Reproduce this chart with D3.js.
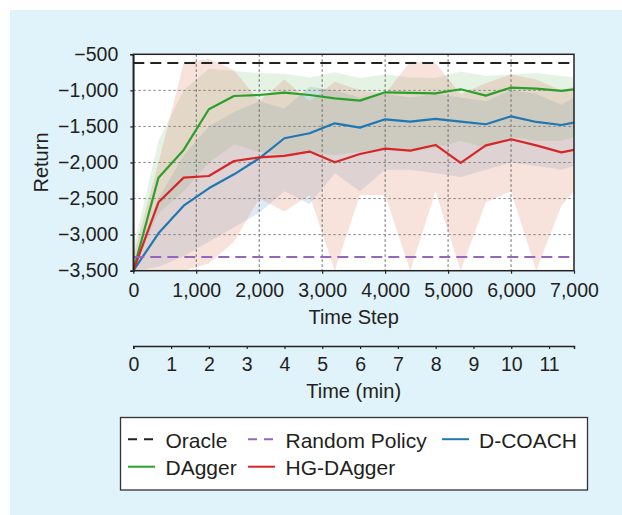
<!DOCTYPE html>
<html>
<head>
<meta charset="utf-8">
<title>Return vs Time Step</title>
<script src="https://cdn.jsdelivr.net/npm/d3@7"></script>
<style>
  body { margin: 0; background: #fff; }
  text { font-family: "Liberation Sans", Arial, Helvetica, sans-serif; fill: #231f20; }
</style>
</head>
<body>
<script>
// values
var steps = [0, 400, 800, 1200, 1600, 2000, 2400, 2800, 3200, 3600, 4000, 4400, 4800, 5200, 5600, 6000, 6400, 6800, 7000];

var dcoach   = [-3500, -2981, -2598, -2358, -2164, -1942, -1664, -1595, -1457, -1517, -1401, -1433, -1396, -1433, -1470, -1360, -1438, -1480, -1447];
var dcoachLo = [-3500, -3450, -3300, -3100, -2900, -2700, -2400, -2580, -2150, -2400, -2100, -2100, -2150, -2200, -2100, -2000, -2050, -2100, -2050];
var dcoachHi = [-3400, -2500, -1900, -1500, -1300, -1150, -1250, -950, -1000, -1100, -1050, -1100, -1050, -1100, -1150, -1000, -1050, -1200, -1100];

var dagger   = [-3500, -2210, -1826, -1262, -1078, -1064, -1031, -1064, -1110, -1142, -1027, -1036, -1041, -985, -1073, -962, -976, -1008, -985];
var daggerLo = [-3500, -2700, -2400, -2000, -1750, -1850, -1900, -1850, -1900, -1850, -1800, -1850, -1800, -1700, -1800, -1650, -1700, -1700, -1650];
var daggerHi = [-3200, -1700, -1000, -700, -730, -760, -770, -820, -750, -830, -780, -820, -830, -740, -800, -780, -760, -800, -820];

var hgdagger   = [-3500, -2552, -2210, -2187, -1979, -1928, -1909, -1849, -1997, -1882, -1808, -1835, -1757, -2006, -1762, -1678, -1762, -1859, -1826];
var hgdaggerLo = [-3500, -3500, -3500, -3400, -3100, -2500, -2680, -2450, -3500, -2450, -2450, -3500, -2400, -3500, -2550, -2400, -3500, -2600, -2400];
var hgdaggerHi = [-3300, -2000, -620, -560, -720, -1150, -850, -1150, -880, -1000, -1050, -600, -620, -1050, -900, -780, -850, -1000, -950];

var oracle = -620;
var randomPolicy = -3310;

var yTicks = [-500, -1000, -1500, -2000, -2500, -3000, -3500];
var xTicks = [0, 1000, 2000, 3000, 4000, 5000, 6000, 7000];
var minTicks = [0, 1, 2, 3, 4, 5, 6, 7, 8, 9, 10, 11];
var minMax = 11.66;   // minutes that correspond to 7,000 steps

var w = 622, h = 515;
var pL = 133.3, pR = 574, pT = 54.3, pB = 270.7;

var svg = d3.select("body").append("svg")
  .attr("width", w)
  .attr("height", h);

svg.append("rect").attr("width", w).attr("height", h).attr("fill", "#fff");
svg.append("rect").attr("x", 10).attr("y", 10).attr("width", w - 10).attr("height", h - 10).attr("fill", "#e0f2fa");

var x = d3.scaleLinear().domain([0, 7000]).range([pL, pR]);
var y = d3.scaleLinear().domain([-3500, -500]).range([pB, pT]);
var xMin = d3.scaleLinear().domain([0, minMax]).range([pL, pR]);

svg.append("clipPath").attr("id", "clip")
  .append("rect").attr("x", pL).attr("y", pT).attr("width", pR - pL).attr("height", pB - pT);

svg.append("rect")
  .attr("x", pL).attr("y", pT).attr("width", pR - pL).attr("height", pB - pT)
  .attr("fill", "#fff");

var plot = svg.append("g").attr("clip-path", "url(#clip)");

var series = [
  { name: "D-COACH",   mean: dcoach,   lo: dcoachLo,   hi: dcoachHi,   line: "#1f77b4", band: "#1f77b4", op: 0.15 },
  { name: "DAgger",    mean: dagger,   lo: daggerLo,   hi: daggerHi,   line: "#2ca02c", band: "#2ca02c", op: 0.12 },
  { name: "HG-DAgger", mean: hgdagger, lo: hgdaggerLo, hi: hgdaggerHi, line: "#d62728", band: "#e07a60", op: 0.22 }
];

var area = function(s) {
  return d3.area()
    .x(function(d, i) { return x(steps[i]); })
    .y0(function(d, i) { return y(s.lo[i]); })
    .y1(function(d, i) { return y(s.hi[i]); });
};

series.forEach(function(s) {
  plot.append("path")
    .datum(steps)
    .attr("d", area(s))
    .attr("fill", s.band)
    .attr("fill-opacity", s.op);
});

// grid
plot.selectAll(".gx").data(xTicks.slice(1, -1)).enter().append("line")
  .attr("x1", function(d) { return x(d); }).attr("x2", function(d) { return x(d); })
  .attr("y1", pT).attr("y2", pB)
  .attr("stroke", "#666").attr("stroke-width", 1).attr("stroke-dasharray", "2.5,2.5");
plot.selectAll(".gy").data(yTicks.slice(1, -1)).enter().append("line")
  .attr("x1", pL).attr("x2", pR)
  .attr("y1", function(d) { return y(d); }).attr("y2", function(d) { return y(d); })
  .attr("stroke", "#888").attr("stroke-width", 1).attr("stroke-dasharray", "2.5,2.5");

var line = function(vals) {
  return d3.line()
    .x(function(d, i) { return x(steps[i]); })
    .y(function(d, i) { return y(vals[i]); });
};

series.forEach(function(s) {
  plot.append("path")
    .datum(steps)
    .attr("d", line(s.mean))
    .attr("fill", "none")
    .attr("stroke", s.line)
    .attr("stroke-width", 2.2)
    .attr("stroke-linejoin", "round");
});

plot.append("line")
  .attr("x1", pL).attr("x2", pR).attr("y1", y(oracle)).attr("y2", y(oracle))
  .attr("stroke", "#222").attr("stroke-width", 2).attr("stroke-dasharray", "11,6");
plot.append("line")
  .attr("x1", pL).attr("x2", pR).attr("y1", y(randomPolicy)).attr("y2", y(randomPolicy))
  .attr("stroke", "#9467bd").attr("stroke-width", 2).attr("stroke-dasharray", "11,6");

// frame
svg.append("rect")
  .attr("x", pL).attr("y", pT).attr("width", pR - pL).attr("height", pB - pT)
  .attr("fill", "none").attr("stroke", "#222").attr("stroke-width", 1.5);

// axes
var yAxis = svg.append("g")
  .attr("transform", "translate(" + pL + ",0)")
  .call(d3.axisLeft(y).tickValues(yTicks).tickFormat(d3.format(",")).tickSize(3).tickPadding(12));
var xAxis = svg.append("g")
  .attr("transform", "translate(0," + pB + ")")
  .call(d3.axisBottom(x).tickValues(xTicks).tickFormat(d3.format(",")).tickSize(3).tickPadding(9.5));
var mAxis = svg.append("g")
  .attr("transform", "translate(0,346)")
  .call(d3.axisBottom(xMin).tickValues(minTicks).tickSize(3).tickPadding(8));

[yAxis, xAxis, mAxis].forEach(function(a) {
  a.select(".domain").attr("stroke", "#222").attr("stroke-width", 1.5);
  a.selectAll(".tick line").attr("stroke", "#222").attr("stroke-width", 1.2);
  a.selectAll(".tick text").attr("font-size", 19.5).attr("fill", "#231f20")
    .style("font-family", "'Liberation Sans', Arial, sans-serif");
});
xAxis.select(".domain").remove();

svg.append("text")
  .attr("x", (pL + pR) / 2).attr("y", 324)
  .attr("text-anchor", "middle").attr("font-size", 20)
  .text("Time Step");
svg.append("text")
  .attr("x", (pL + pR) / 2).attr("y", 398)
  .attr("text-anchor", "middle").attr("font-size", 20)
  .text("Time (min)");
svg.append("text")
  .attr("transform", "translate(48," + ((pT + pB) / 2) + ") rotate(-90)")
  .attr("text-anchor", "middle").attr("font-size", 20)
  .text("Return");

// legend
var legend = svg.append("g");
legend.append("rect")
  .attr("x", 120.5).attr("y", 417.5).attr("width", 467).attr("height", 72.5)
  .attr("fill", "#fff").attr("stroke", "#333").attr("stroke-width", 1.3);

var items = [
  { label: "Oracle",        color: "#222",    dash: "9,7", lx: 128, tx: 165.5, row: 0 },
  { label: "Random Policy", color: "#9467bd", dash: "9,7", lx: 248, tx: 285.5, row: 0 },
  { label: "D-COACH",       color: "#1f77b4", dash: null,  lx: 442, tx: 479,   row: 0 },
  { label: "DAgger",        color: "#2ca02c", dash: null,  lx: 128, tx: 165.5, row: 1 },
  { label: "HG-DAgger",     color: "#d62728", dash: null,  lx: 248, tx: 285.5, row: 1 }
];

items.forEach(function(it) {
  var base = 447.7 + it.row * 27.5;
  legend.append("line")
    .attr("x1", it.lx).attr("x2", it.lx + 27)
    .attr("y1", base - 8.5).attr("y2", base - 8.5)
    .attr("stroke", it.color).attr("stroke-width", 2)
    .attr("stroke-dasharray", it.dash);
  legend.append("text")
    .attr("x", it.tx).attr("y", base)
    .attr("font-size", 21)
    .text(it.label);
});
</script>
</body>
</html>
